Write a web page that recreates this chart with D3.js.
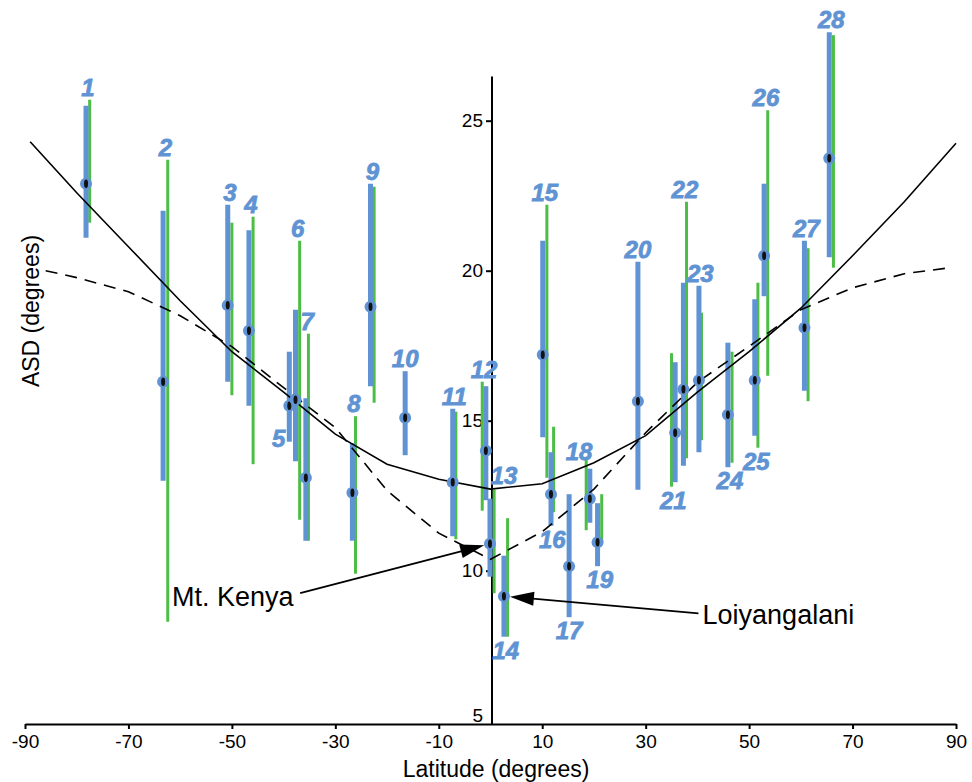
<!DOCTYPE html>
<html>
<head>
<meta charset="utf-8">
<title>ASD vs latitude</title>
<script src="https://d3js.org/d3.v7.min.js"></script>
<style>
  body { margin: 0; background: #fff; }
  text { font-family: "Liberation Sans", Arial, Helvetica, sans-serif; }
</style>
</head>
<body>
<div id="chart"></div>
<script>
// site numbers, latitudes and ASD ranges (blue = first estimate, green = second)
var sites = ["1","2","3","4","5","6","7","8","9","10","11","12","13","14",
             "15","16","17","18","19","20","21","22","23","24","25","26","27","28"];
var latBlue  = [-78.2,-63.3,-50.8,-46.7,-38.9,-37.7,-35.7,-26.7,-23.2,-16.5,-7.3,-0.9,-0.1,2.6,
                10.1,11.7,15.2,19.2,20.7,28.5,35.7,37.3,40.3,45.9,51.1,52.9,60.7,65.5];
var latGreen = [-77.5,-62.4,-50.0,-45.9,null,-36.9,-35.2,-26.1,-22.5,null,-6.7,-1.6,0.7,3.3,
                10.9,12.2,null,18.5,21.5,null,35.0,37.9,40.8,46.7,51.7,53.6,61.4,66.3];
var asd      = [22.9,16.3,18.85,18.0,15.5,15.7,13.1,12.6,18.8,15.1,12.95,14.0,10.9,9.15,
                17.2,12.55,10.15,12.4,10.95,15.65,14.6,16.05,16.35,15.2,16.35,20.5,18.1,23.75];
var blueHi   = [25.5,22.0,22.2,21.35,17.3,18.7,15.75,14.25,22.9,16.65,15.4,16.15,12.4,10.5,
                21.0,13.95,12.55,13.4,12.25,20.3,16.95,19.6,19.5,17.6,19.05,22.9,21.0,27.95];
var blueLo   = [21.1,13.0,16.3,15.5,14.3,13.65,11.0,11.0,16.15,13.85,11.15,12.35,9.8,7.8,
                14.45,11.5,8.45,11.6,10.15,12.7,12.95,13.5,13.95,13.45,14.5,19.15,16.0,20.45];
var greenHi  = [25.7,23.7,21.6,21.8,null,21.0,17.9,15.15,22.8,null,15.3,16.3,12.7,11.75,
                22.2,14.8,null,13.8,12.55,null,17.25,22.3,18.6,17.3,19.6,25.35,20.75,27.85];
var greenLo  = [21.6,8.3,15.85,13.55,null,11.7,11.0,9.9,15.6,null,11.05,12.0,9.25,7.8,
                13.1,11.95,null,11.35,10.95,null,12.8,13.75,14.35,13.6,14.1,16.5,15.65,20.1];
// where each site number sits: t top, b bottom, l left, tr top-right, tl top-left
var labelSide = ["t","t","t","t","l","t","t","t","t","t","t","t","tr","b",
                 "t","b","b","tl","b","t","b","t","t","b","b","t","t","t"];

// model curves
var solidLat = [-89,-80,-70,-60,-50,-40,-30,-20,-10,0,10,20,30,40,50,60,70,80,90];
var solidASD = [24.3,22.6,20.8,19.0,17.3,15.95,14.55,13.55,13.05,12.72,12.9,13.6,14.5,15.95,17.3,18.75,20.5,22.3,24.25];
var dashLat  = [-86,-80,-70,-60,-50,-40,-30,-20,-10,0,10,20,30,40,50,60,70,80,88];
var dashASD  = [20.0,19.77,19.3,18.5,17.47,16.1,14.77,12.67,11.25,10.38,11.3,12.72,14.6,16.28,17.48,18.7,19.43,19.9,20.08];

// annotations
var noteText = ["Mt. Kenya", "Loiyangalani"];
var noteSite = [13, 14];
var noteLat  = [-61.6, 41.0];
var noteASD  = [8.83, 8.21];
var noteFromLat = [-36.8, 40.2];
var noteFromASD = [9.25, 8.58];

var xTicks = [-90,-70,-50,-30,-10,10,30,50,70,90];
var yTicks = [5,10,15,20,25];

var width = 972, height = 782;
var blue = "#5f93d3", green = "#4dbe45";
var yBottom = 4.89, yTop = 26.47;

var svg = d3.select("#chart").append("svg").attr("width", width).attr("height", height);

var x = d3.scaleLinear().domain([-90, 90]).range([25, 956]);
var y = d3.scaleLinear().domain([5, 25]).range([720.7, 120.7]);

// axes
var xAxis = svg.append("g")
  .attr("transform", "translate(0," + y(yBottom) + ")")
  .call(d3.axisBottom(x).tickValues(xTicks).tickSize(5).tickPadding(6).tickSizeOuter(0)
    .tickFormat(function(d) { return String(d); }));
xAxis.select(".domain").attr("stroke-width", 2.2);
xAxis.selectAll(".tick line").attr("stroke-width", 2);
xAxis.selectAll("text").attr("font-size", 19).attr("fill", "#000");

var yAxis = svg.append("g")
  .attr("transform", "translate(" + (x(0) + 1.5) + ",0)")
  .call(d3.axisLeft(y).tickValues(yTicks).tickSize(6).tickPadding(3)
    .tickFormat(function(d) { return String(d); }));
yAxis.select(".domain").remove();
yAxis.append("line")
  .attr("y1", y(yTop)).attr("y2", y(yBottom))
  .attr("stroke", "#000").attr("stroke-width", 2);
yAxis.selectAll(".tick line").attr("stroke-width", 2);
yAxis.selectAll("text").attr("font-size", 19).attr("fill", "#000");
var tick5 = yAxis.selectAll(".tick").filter(function(d) { return d === 5; });
tick5.select("line").remove();
tick5.select("text").attr("dy", "0.02em");

svg.append("text")
  .attr("x", 496).attr("y", 777)
  .attr("text-anchor", "middle").attr("font-size", 23)
  .text("Latitude (degrees)");
svg.append("text")
  .attr("transform", "translate(39,311) rotate(-90)")
  .attr("text-anchor", "middle").attr("font-size", 23)
  .text("ASD (degrees)");

var idx = d3.range(sites.length);

// error bars
svg.append("g").selectAll("line")
  .data(idx.filter(function(i) { return latGreen[i] !== null; }))
  .join("line")
  .attr("x1", function(i) { return x(latGreen[i]); })
  .attr("x2", function(i) { return x(latGreen[i]); })
  .attr("y1", function(i) { return y(greenHi[i]); })
  .attr("y2", function(i) { return y(greenLo[i]); })
  .attr("stroke", green).attr("stroke-width", 3);

svg.append("g").selectAll("line")
  .data(idx)
  .join("line")
  .attr("x1", function(i) { return x(latBlue[i]); })
  .attr("x2", function(i) { return x(latBlue[i]); })
  .attr("y1", function(i) { return y(blueHi[i]); })
  .attr("y2", function(i) { return y(blueLo[i]); })
  .attr("stroke", blue).attr("stroke-width", 5);

// curves
var line = d3.line()
  .x(function(d) { return x(d[0]); })
  .y(function(d) { return y(d[1]); });
svg.append("path")
  .attr("d", line(d3.zip(solidLat, solidASD)))
  .attr("fill", "none").attr("stroke", "#000").attr("stroke-width", 1.6);
svg.append("path")
  .attr("d", line(d3.zip(dashLat, dashASD)))
  .attr("fill", "none").attr("stroke", "#000").attr("stroke-width", 1.6)
  .attr("stroke-dasharray", "12,8");

// mean points
var dots = svg.append("g").selectAll("g")
  .data(idx)
  .join("g")
  .attr("transform", function(i) { return "translate(" + x(latBlue[i]) + "," + y(asd[i]) + ")"; });
dots.append("circle").attr("r", 6).attr("fill", blue);
dots.append("ellipse").attr("rx", 2).attr("ry", 4.2).attr("fill", "#111");

// site numbers
function labelAt(i) {
  var xs = [x(latBlue[i])];
  if (latGreen[i] !== null) xs.push(x(latGreen[i]));
  var cx = d3.mean(xs);
  var top = y(d3.max([blueHi[i], greenHi[i]]));
  var bot = y(d3.min([blueLo[i], greenLo[i]]));
  switch (labelSide[i]) {
    case "b":  return [cx, bot + 22, "middle"];
    case "l":  return [x(latBlue[i]) - 4, bot + 5, "end"];
    case "tr": return [cx + 12, top - 6, "middle"];
    case "tl": return [cx - 9, top + 3, "middle"];
    default:   return [cx, top - 4, "middle"];
  }
}
svg.append("g").selectAll("text")
  .data(idx)
  .join("text")
  .attr("x", function(i) { return labelAt(i)[0]; })
  .attr("y", function(i) { return labelAt(i)[1]; })
  .attr("text-anchor", function(i) { return labelAt(i)[2]; })
  .attr("font-size", 24).attr("font-weight", "bold").attr("font-style", "italic")
  .attr("fill", blue).attr("stroke", blue).attr("stroke-width", 0.8)
  .text(function(i) { return sites[i]; });

// annotations with arrows
noteText.forEach(function(t, k) {
  var s = noteSite[k] - 1;
  var px = x(latBlue[s]), py = y(asd[s]);
  var sx = x(noteFromLat[k]), sy = y(noteFromASD[k]);
  var dx = px - sx, dy = py - sy, len = Math.sqrt(dx * dx + dy * dy);
  var ux = dx / len, uy = dy / len;
  var tx = px - ux * 6, ty = py - uy * 6;
  var bx = tx - ux * 24, by = ty - uy * 24;
  svg.append("line")
    .attr("x1", sx).attr("y1", sy).attr("x2", bx + ux * 4).attr("y2", by + uy * 4)
    .attr("stroke", "#000").attr("stroke-width", 1.8);
  svg.append("path")
    .attr("d", "M" + tx + "," + ty +
      "L" + (bx - uy * 7) + "," + (by + ux * 7) +
      "L" + (bx + uy * 7) + "," + (by - ux * 7) + "Z")
    .attr("fill", "#000");
  svg.append("text")
    .attr("x", x(noteLat[k])).attr("y", y(noteASD[k]))
    .attr("font-size", 27).attr("fill", "#000")
    .text(t);
});
</script>
</body>
</html>
